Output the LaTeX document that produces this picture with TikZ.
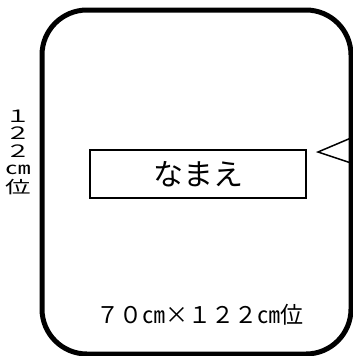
\documentclass[tikz,border=0pt]{standalone}
\usepackage{fontspec}
\setmainfont{Noto Sans CJK JP}
\usetikzlibrary{positioning,calc}

\tikzset{
  board/.style={draw,line width=5pt,rounded corners=45pt,inner sep=0pt,outer sep=0pt},
  namebox/.style={draw,line width=1.5pt,inner sep=0pt},
  hookline/.style={line width=1.5pt},
}
\newcommand{\widecol}[1]{\scalebox{1.5}[1]{\begin{tabular}{@{}c@{}}#1\end{tabular}}}

\begin{document}
\begin{tikzpicture}[x=1pt,y=-1pt]
    \useasboundingbox (0,0) rectangle (353,356);
	  \node[board,minimum width=309pt,minimum height=344pt] (plate) at (196.5,182) {};
    \node[namebox,minimum width=216pt,minimum height=48pt,font=\fontsize{30}{30}\selectfont] (name) at (198,174) {なまえ};
		% hook on the right side
		\coordinate (hookA) at (351,138);
		\coordinate (hookB) at (351,163);
		\coordinate (hookTip) at (318,152);
		\draw[hookline] (hookA) -- (hookTip) -- (hookB);
		% sizes
		\node[inner sep=0pt,font=\fontsize{17}{16.5}\selectfont] (height) at (18,154) {\widecol{１\\２\\２\\㎝\\位}};
		\node[font=\fontsize{23}{23}\selectfont] (size) at (200,315) {７０㎝×１２２㎝位};
\end{tikzpicture}
\end{document}
